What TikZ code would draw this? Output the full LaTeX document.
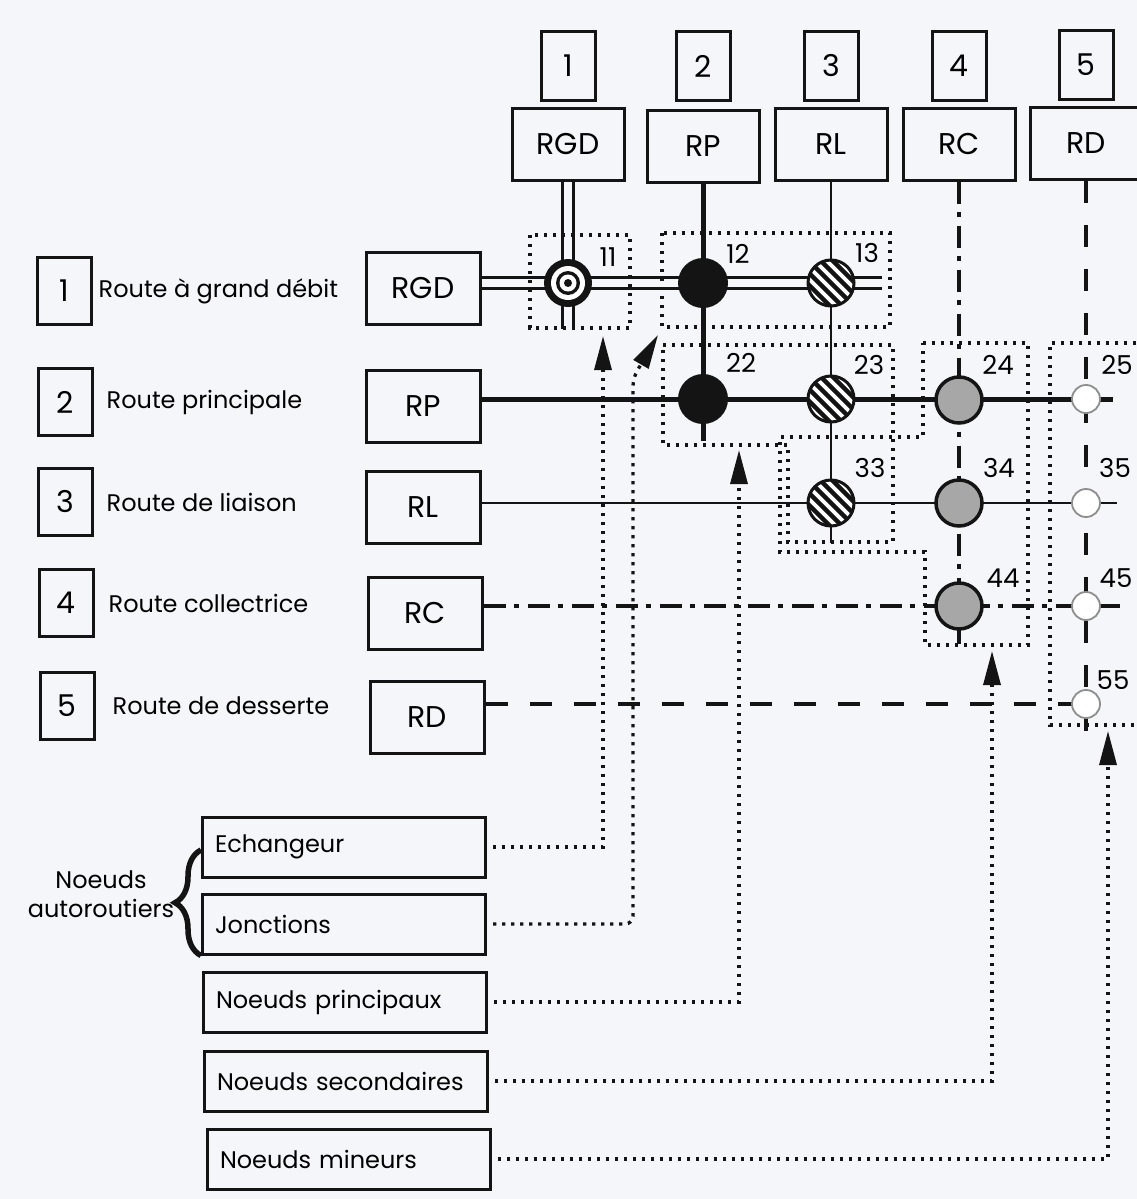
\documentclass[tikz,border=0pt]{standalone}
\usepackage{fontspec}
\setmainfont{Poppins}
\usetikzlibrary{arrows.meta,positioning,decorations.pathreplacing}
\definecolor{paper}{HTML}{F5F6F9}
\definecolor{ink}{HTML}{141414}
\definecolor{stipple}{HTML}{A7A7A7}
\definecolor{ghost}{HTML}{8E8E8E}
\newcommand{\rdfont}{\fontsize{30}{34}\selectfont}
\newcommand{\lgfont}{\fontsize{24}{29}\selectfont}
\newcommand{\nbfont}{\fontsize{26}{30}\selectfont}
\pgfdeclarelayer{paperlayer}
\pgfdeclarelayer{roadlayer}
\pgfsetlayers{paperlayer,roadlayer,main}
\tikzset{
  rdbox/.style={draw=ink, line width=3pt, minimum width=112pt, minimum height=72pt, inner sep=0pt, font=\rdfont},
  numbox/.style={draw=ink, line width=3pt, minimum width=54pt, minimum height=68pt, inner sep=0pt, font=\rdfont},
  legtext/.style={font=\lgfont, inner sep=0pt},
  kindbox/.style={draw=ink, line width=3pt, minimum width=283pt, minimum height=60pt, text width=258pt, inner xsep=12pt, align=left, font=\lgfont},
  nlabel/.style={font=\nbfont, inner sep=0pt},
  echnode/.style={circle, fill=ink, minimum size=48pt, inner sep=0pt, path picture={
      \fill[white] (path picture bounding box.center) circle[radius=17pt];
      \fill[ink] (path picture bounding box.center) circle[radius=12pt];
      \fill[white] (path picture bounding box.center) circle[radius=8.5pt];
      \fill[ink] (path picture bounding box.center) circle[radius=4pt];}},
  blacknode/.style={circle, fill=ink, minimum size=50pt, inner sep=0pt},
  hatchnode/.style={circle, draw=ink, line width=3pt, fill=white, minimum size=46pt, inner sep=0pt, path picture={
      \begin{scope}[shift={(path picture bounding box.center)}]
        \foreach \k in {-36,-24,...,36} \draw[ink, line width=4.5pt] (\k-30,-30) -- (\k+30,30);
      \end{scope}}},
  greynode/.style={circle, draw=ink, line width=3.5pt, fill=stipple, minimum size=46pt, inner sep=0pt},
  minornode/.style={circle, draw=ghost, line width=1.8pt, fill=white, minimum size=28pt, inner sep=0pt},
  roadgd/.style={draw=ink, line width=3.2pt, double=paper, double distance=8pt},
  roadp/.style={draw=ink, line width=5pt},
  roadl/.style={draw=ink, line width=2.8pt},
  roadc/.style={draw=ink, line width=3.2pt, dash pattern=on 22pt off 8pt on 5pt off 9pt},
  roadd/.style={draw=ink, line width=3.2pt, dash pattern=on 22pt off 22pt},
  zone/.style={draw=ink, line width=3.3pt, dash pattern=on 3.3pt off 5.7pt},
  feed/.style={zone, shorten <=6pt, -{Triangle[length=34pt, width=17pt]}},
  bracket/.style={draw=ink, line width=5.5pt, decorate, decoration={brace, amplitude=26pt}},
}
\begin{document}
\begin{tikzpicture}[x=1pt, y=-1pt]
  \useasboundingbox (0,0) rectangle (1137,1199);
  \begin{pgfonlayer}{paperlayer}
    \fill[paper] (0,0) rectangle (1137,1199);
  \end{pgfonlayer}

  % road classes along the top
  \node[rdbox] (trgd) at (568,144) {RGD};
  \node[rdbox] (trp) at (703,146) {RP};
  \node[rdbox] (trl) at (831,144) {RL};
  \node[rdbox] (trc) at (959,144) {RC};
  \node[rdbox] (trd) at (1086,143) {RD};
  \node[numbox, above=5pt of trgd] (t1) {1};
  \node[numbox, above=7pt of trp] (t2) {2};
  \node[numbox, above=5pt of trl] (t3) {3};
  \node[numbox, above=5pt of trc] (t4) {4};
  \node[numbox, above=5pt of trd] (t5) {5};

  % road classes down the side
  \node[rdbox, minimum width=114pt] (lrgd) at (423,288) {RGD};
  \node[rdbox, minimum width=114pt] (lrp) at (423,406) {RP};
  \node[rdbox, minimum width=114pt] (lrl) at (423,507) {RL};
  \node[rdbox, minimum width=114pt] (lrc) at (425,613) {RC};
  \node[rdbox, minimum width=114pt] (lrd) at (427,717) {RD};

  % legend of road classes
  \node[numbox, minimum height=67pt] (k1) at (64,291) {1};
  \node[numbox, minimum height=67pt] (k2) at (65,402) {2};
  \node[numbox, minimum height=67pt] (k3) at (65,502) {3};
  \node[numbox, minimum height=67pt] (k4) at (66,603) {4};
  \node[numbox, minimum height=67pt] (k5) at (67,706) {5};
  \node[legtext, anchor=west, right=6pt of k1] (g1) {Route à grand débit};
  \node[legtext, anchor=west, right=13pt of k2] (g2) {Route principale};
  \node[legtext, anchor=west, right=13pt of k3] (g3) {Route de liaison};
  \node[legtext, anchor=west, right=14pt of k4] (g4) {Route collectrice};
  \node[legtext, anchor=west, right=17pt of k5] (g5) {Route de desserte};

  % intersections
  \node[echnode] (n11) at (568,283) {};
  \node[blacknode] (n12) at (703,283) {};
  \node[hatchnode] (n13) at (831,283) {};
  \node[blacknode] (n22) at (703,399) {};
  \node[hatchnode] (n23) at (831,399) {};
  \node[greynode] (n24) at (959,400) {};
  \node[minornode] (n25) at (1086,399) {};
  \node[hatchnode] (n33) at (831,503) {};
  \node[greynode] (n34) at (959,503) {};
  \node[minornode] (n35) at (1086,503) {};
  \node[greynode] (n44) at (959,606) {};
  \node[minornode] (n45) at (1086,606) {};
  \node[minornode] (n55) at (1086,704) {};
  \node[nlabel] (l11) at (608,257) {11};
  \node[nlabel] (l12) at (738,254) {12};
  \node[nlabel] (l13) at (867,253) {13};
  \node[nlabel] (l22) at (741,363) {22};
  \node[nlabel] (l23) at (869,365) {23};
  \node[nlabel] (l24) at (998,365) {24};
  \node[nlabel] (l25) at (1117,365) {25};
  \node[nlabel] (l33) at (870,468) {33};
  \node[nlabel] (l34) at (999,468) {34};
  \node[nlabel] (l35) at (1115,468) {35};
  \node[nlabel] (l44) at (1003,578) {44};
  \node[nlabel] (l45) at (1116,578) {45};
  \node[nlabel] (l55) at (1113,680) {55};

  % roads under the intersections
  \begin{pgfonlayer}{roadlayer}
    \draw[roadgd] (lrgd.east |- n11) -- (n13.center) -- ++(51,0);
    \draw[roadgd] (trgd.south) -- (n11.center) -- ++(0,46);
    \draw[roadp] (lrp.east |- n22) -- (n25.center) -- ++(27,0);
    \draw[roadp] (trp.south) -- (n22.center) -- ++(0,42);
    \draw[roadl] (lrl.east |- n33) -- (n35.center) -- ++(31,0);
    \draw[roadl] (trl.south) -- (n33.center) -- ++(0,40);
    \draw[roadc] (lrc.east |- n44) -- (n45.center) -- ++(34,0);
    \draw[roadc] (trc.south) -- (n44.center) -- ++(0,40);
    \draw[roadd] (lrd.east |- n55) -- (n55.center);
    \draw[roadd] (trd.south) -- (n55.center) -- ++(0,34);
  \end{pgfonlayer}

  % groups of intersections
  \draw[zone] (530,235) rectangle (630,328);
  \draw[zone] (662,233) rectangle (890,327);
  \draw[zone] (663,345) -- (893,345) -- (893,542) -- (788,542) -- (788,445) -- (663,445) -- cycle;
  \draw[zone] (923,343) -- (1028,343) -- (1028,645) -- (925,645) -- (925,552) -- (780,552) -- (780,437) -- (923,437) -- cycle;
  \draw[zone] (1145,343) -- (1050,343) -- (1050,725) -- (1145,725);

  % kinds of intersection
  \node[kindbox] (ech) at (344,847) {Echangeur};
  \node[kindbox] (jon) at (344,924) {Jonctions};
  \node[kindbox] (prin) at (345,1002) {Noeuds principaux};
  \node[kindbox] (sec) at (346,1081) {Noeuds secondaires};
  \node[kindbox] (mins) at (349,1159) {Noeuds mineurs};
  \node[legtext, align=center] (auto) at (101,894) {Noeuds\\autoroutiers};
  \draw[bracket] (ech.west |- jon.south) -- (ech.west |- 0,850);

  \coordinate (to11) at (603,336);
  \coordinate (to12) at (658,335);
  \coordinate (to22) at (739,450);
  \coordinate (to24) at (992,651);
  \coordinate (to25) at (1108,731);
  \draw[feed] (ech.east) -| (to11);
  \draw[feed, rounded corners=8pt] (jon.east) -| (633,378) -- (to12);
  \draw[feed] (prin.east) -| (to22);
  \draw[feed] (sec.east) -| (to24);
  \draw[feed] (mins.east) -| (to25);
\end{tikzpicture}
\end{document}
